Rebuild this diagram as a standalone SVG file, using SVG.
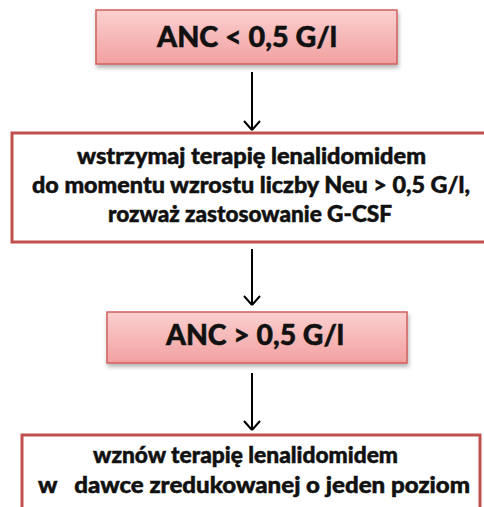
<svg xmlns="http://www.w3.org/2000/svg" width="484" height="507" viewBox="0 0 484 507">
<style>
.t{font-family:Lato,"Liberation Sans",sans-serif;font-weight:900;fill:#111;stroke:#111;stroke-width:0.5;}
.big{font-size:29px;}
.mid{font-size:22.5px;}
.pink{fill:url(#pg);stroke:#d0605e;stroke-width:1.5;filter:url(#sh);}
.white{fill:#fff;stroke:#c0504d;stroke-width:3;}
.conn{stroke:#000;stroke-width:2;fill:none;}
</style>
<defs>
<linearGradient id="pg" x1="0" y1="0" x2="0" y2="1">
<stop offset="0" stop-color="#fbd0d0"/>
<stop offset="1" stop-color="#f2a0a0"/>
</linearGradient>
<filter id="sh" x="-10%" y="-20%" width="120%" height="150%">
<feDropShadow dx="1" dy="3" stdDeviation="2" flood-color="#000" flood-opacity="0.3"/>
</filter>
</defs>
<rect width="484" height="507" fill="#fff"/>
<g id="connectors">
<path class="conn" d="M252,72 L252,129"/>
<path class="conn" d="M252,130 L244,121 M252,130 L260,121"/>
<path class="conn" d="M252,249 L252,304"/>
<path class="conn" d="M252,305 L244,296 M252,305 L260,296"/>
<path class="conn" d="M252,373 L252,429"/>
<path class="conn" d="M252,430 L244,421 M252,430 L260,421"/>
</g>
<g id="node1">
<rect class="pink" x="96" y="10" width="301" height="54"/>
<text class="t big" x="157" y="47" textLength="180" lengthAdjust="spacingAndGlyphs">ANC &lt; 0,5 G/l</text>
</g>
<g id="node2">
<rect class="white" x="12" y="133" width="480" height="109"/>
<text class="t mid" x="77" y="164" textLength="349" lengthAdjust="spacingAndGlyphs">wstrzymaj terapię lenalidomidem</text>
<text class="t mid" x="32" y="193" textLength="438" lengthAdjust="spacingAndGlyphs">do momentu wzrostu liczby Neu &gt; 0,5 G/l,</text>
<text class="t mid" x="108" y="222" textLength="284" lengthAdjust="spacingAndGlyphs">rozważ zastosowanie G-CSF</text>
</g>
<g id="node3">
<rect class="pink" x="107" y="312" width="300" height="51"/>
<text class="t big" x="166" y="345" textLength="178" lengthAdjust="spacingAndGlyphs">ANC &gt; 0,5 G/l</text>
</g>
<g id="node4">
<rect class="white" x="22" y="435" width="458" height="90"/>
<text class="t mid" x="93" y="463" textLength="305" lengthAdjust="spacingAndGlyphs">wznów terapię lenalidomidem</text>
<text class="t mid" x="38" y="493" textLength="432" lengthAdjust="spacingAndGlyphs" xml:space="preserve">w   dawce zredukowanej o jeden poziom</text>
</g>
</svg>
